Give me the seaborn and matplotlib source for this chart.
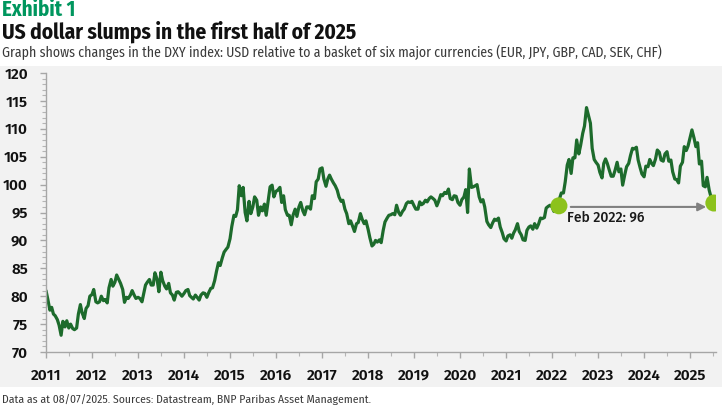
import matplotlib
matplotlib.use('Agg')
import matplotlib.pyplot as plt
import matplotlib.dates as mdates
from matplotlib.patches import Rectangle
from matplotlib.ticker import MultipleLocator
import seaborn as sns
import pandas as pd

# DXY : une valeur le 1er et le 15 de chaque mois
dxy_2011 = [81.0, 79.5, 77.5, 78.0, 76.8, 76.5, 75.8, 74.8, 73.0, 75.5, 74.5, 75.6,
            74.3, 75.0, 74.2, 74.0, 74.3, 76.8, 78.5, 77.0, 76.0, 77.8, 78.3, 80.0]
dxy_2012 = [80.3, 81.2, 79.0, 78.8, 79.0, 80.0, 79.2, 79.4, 78.8, 81.5, 83.0, 81.8,
            82.5, 83.8, 83.0, 82.3, 81.2, 78.9, 79.8, 79.6, 80.2, 81.0, 80.2, 79.6]
dxy_2013 = [79.8, 79.6, 79.0, 80.5, 82.0, 82.5, 83.0, 82.0, 82.0, 84.2, 83.0, 80.8,
            84.3, 82.8, 81.8, 81.3, 82.3, 80.6, 80.2, 79.3, 80.7, 80.8, 80.4, 80.0]
dxy_2014 = [80.5, 81.0, 81.2, 80.1, 79.8, 79.5, 80.2, 79.8, 79.3, 80.2, 80.6, 80.5,
            79.8, 80.6, 81.4, 81.5, 82.8, 84.4, 86.0, 85.5, 86.9, 87.9, 88.4, 88.8]
dxy_2015 = [90.3, 92.5, 94.5, 94.3, 95.5, 99.8, 98.0, 99.5, 95.0, 93.5, 97.0, 94.8,
            96.0, 97.8, 97.2, 94.5, 96.0, 95.3, 96.5, 94.5, 97.3, 99.6, 99.9, 97.8]
dxy_2016 = [98.8, 99.0, 99.5, 96.8, 98.0, 95.5, 94.5, 94.5, 92.8, 94.5, 95.6, 94.3,
            96.0, 96.8, 95.3, 94.6, 96.0, 96.0, 95.6, 98.0, 97.5, 100.5, 101.0, 102.8]
dxy_2017 = [103.0, 101.0, 99.7, 101.0, 101.7, 101.0, 100.3, 99.8, 99.0, 97.8, 97.0, 97.2,
            95.6, 94.8, 93.0, 93.5, 92.5, 91.6, 93.0, 93.2, 94.8, 93.8, 93.0, 93.5]
dxy_2018 = [92.0, 90.5, 89.0, 89.3, 90.0, 89.7, 90.1, 89.6, 91.8, 93.3, 94.0, 94.5,
            94.6, 94.8, 94.6, 96.3, 95.0, 94.5, 95.2, 95.6, 96.6, 96.9, 96.8, 97.0]
dxy_2019 = [96.2, 95.6, 95.6, 96.9, 96.4, 96.6, 97.2, 96.9, 97.5, 97.8, 97.5, 97.2,
            96.2, 97.0, 98.2, 98.0, 98.6, 98.4, 99.2, 97.5, 97.3, 98.0, 97.9, 96.8]
dxy_2020 = [96.3, 97.3, 97.8, 99.1, 95.0, 102.8, 99.5, 99.6, 99.8, 100.0, 97.8, 96.9,
            97.3, 96.0, 93.4, 92.8, 92.3, 93.1, 93.8, 93.6, 94.0, 92.4, 91.4, 90.3]
dxy_2021 = [89.9, 90.8, 91.0, 90.4, 91.3, 91.9, 93.0, 91.6, 91.0, 90.1, 90.0, 91.8,
            92.4, 92.6, 92.0, 93.0, 92.2, 92.9, 94.0, 93.9, 94.1, 95.8, 96.1, 96.3]
dxy_2022 = [96.0, 95.2, 96.5, 96.0, 97.5, 98.5, 98.5, 100.5, 103.5, 104.5, 102.0, 104.8,
            104.8, 108.0, 105.5, 107.0, 109.2, 110.5, 113.8, 112.5, 111.0, 106.5, 104.5, 104.0]
dxy_2023 = [103.5, 102.2, 101.2, 103.8, 104.6, 103.8, 102.5, 101.5, 101.5, 102.5, 104.0, 102.3,
            102.8, 99.9, 101.8, 103.2, 103.8, 105.2, 106.5, 106.4, 106.7, 104.4, 103.0, 101.9]
dxy_2024 = [101.4, 103.3, 103.2, 104.5, 103.8, 103.4, 104.6, 106.2, 105.8, 104.4, 104.2, 105.5,
            105.9, 104.2, 104.4, 102.3, 101.0, 100.9, 100.3, 103.3, 104.0, 106.8, 106.1, 106.9]
dxy_2025 = [108.5, 109.8, 108.3, 106.8, 107.5, 103.7, 104.2, 99.8, 99.6, 101.3, 99.0, 97.8,
            96.8]

# points mis en évidence
point_dates = ['2022-02-24', '2025-07-08']
point_values = [96.2, 96.7]
note_text = 'Feb 2022: 96'

values = (dxy_2011 + dxy_2012 + dxy_2013 + dxy_2014 + dxy_2015 + dxy_2016 + dxy_2017
          + dxy_2018 + dxy_2019 + dxy_2020 + dxy_2021 + dxy_2022 + dxy_2023 + dxy_2024
          + dxy_2025)
df = pd.DataFrame({'date': pd.date_range('2011-01-01', periods=len(values), freq='SMS'),
                   'dxy': values})
pts = pd.DataFrame({'date': pd.to_datetime(point_dates), 'dxy': point_values})

sns.set_theme(style='white')
plt.rcParams['font.family'] = ['Fira Sans', 'DejaVu Sans']
cond = ['Fira Sans Condensed', 'DejaVu Sans']

fig = plt.figure(figsize=(7.25, 4.05), dpi=100)
fig.patches.append(Rectangle((0, 1 - 387 / 405), 722 / 725, 321 / 405,
                             transform=fig.transFigure, facecolor='#f2f2f2',
                             edgecolor='none', zorder=-10))
ax = fig.add_axes([46 / 725, 1 - 352 / 405, 670 / 725, 279 / 405])
ax.set_facecolor('#f2f2f2')

sns.lineplot(data=df, x='date', y='dxy', ax=ax, color='#1d6b2c', linewidth=2.3)
sns.scatterplot(data=pts, x='date', y='dxy', ax=ax, color='#8cc21c', s=150,
                edgecolor='none', zorder=5)

ax.annotate('', xy=(pd.Timestamp('2025-05-08'), 96.0),
            xytext=(pd.Timestamp('2022-05-29'), 96.0),
            arrowprops=dict(arrowstyle='-|>', color='#808080', lw=1.5,
                            mutation_scale=12, shrinkA=0, shrinkB=0))
ax.text(pd.Timestamp('2022-04-28'), 94.0, note_text, fontsize=10, fontweight='medium',
        va='center', ha='left', color='#1a1a1a')

ax.set_xlim(pd.Timestamp('2011-01-01'), pd.Timestamp('2025-07-25'))
ax.set_ylim(70, 120)
ax.xaxis.set_major_locator(mdates.YearLocator())
ax.xaxis.set_minor_locator(mdates.MonthLocator(bymonth=7))
ax.xaxis.set_major_formatter(mdates.DateFormatter('%Y'))
ax.yaxis.set_major_locator(MultipleLocator(5))
ax.yaxis.set_minor_locator(MultipleLocator(1))
ax.set_xlabel('')
ax.set_ylabel('')

for s in ['top', 'right']:
    ax.spines[s].set_visible(False)
for s in ['left', 'bottom']:
    ax.spines[s].set_color('#a6a6a6')
    ax.spines[s].set_linewidth(1)

ax.tick_params(axis='both', which='both', bottom=True, left=True, direction='out')
ax.tick_params(axis='both', which='major', length=4, width=1,
               color='#a6a6a6', labelsize=11, labelcolor='#111111')
ax.tick_params(axis='both', which='minor', length=3, width=0.8, color='#b5b5b5')
ax.tick_params(axis='y', which='major', pad=9)
ax.tick_params(axis='x', which='major', pad=8)
for lab in ax.get_xticklabels() + ax.get_yticklabels():
    lab.set_fontweight('semibold')

fig.text(2 / 725, 1 - 16 / 405, 'Exhibit 1', fontsize=15, fontweight='bold',
         color='#00965e', family=cond, va='baseline')
fig.text(2 / 725, 1 - 39 / 405, 'US dollar slumps in the first half of 2025',
         fontsize=15.4, fontweight='bold', color='#111111', family=cond, va='baseline')
fig.text(2 / 725, 1 - 57 / 405,
         'Graph shows changes in the DXY index: USD relative to a basket of six major '
         'currencies (EUR, JPY, GBP, CAD, SEK, CHF)',
         fontsize=9.95, fontweight='normal', color='#3a3a3a', family=cond, va='baseline')
fig.text(2 / 725, 1 - 403 / 405,
         'Data as at 08/07/2025. Sources: Datastream, BNP Paribas Asset Management.',
         fontsize=8.35, fontweight='normal', color='#3a3a3a', family=cond, va='baseline')

fig.savefig('out.png', dpi=100)
